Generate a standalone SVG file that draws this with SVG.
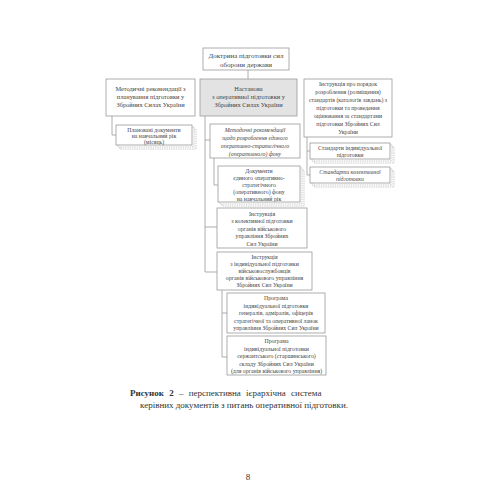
<svg xmlns="http://www.w3.org/2000/svg" width="500" height="500" viewBox="0 0 500 500">
<defs>
<style>
text{font-family:"Liberation Serif","Times New Roman",serif;fill:#444;text-anchor:middle}
.b{fill:#fff;stroke:#999;stroke-width:0.8}
.g{fill:#e3e3e3;stroke:#999;stroke-width:0.8}
.s{fill:#fff;stroke:#aaa;stroke-width:0.6;stroke-dasharray:1.5 0.8}
.c{fill:none;stroke:#999;stroke-width:0.8}
.t7{font-size:7px}
.t65{font-size:6.4px}
.t6{font-size:5.8px}
.i{font-style:italic}
.cap{font-size:9px;fill:#333}
</style>
</defs>
<rect width="500" height="500" fill="#fff"/>
<g id="connectors">
<path class="c" d="M248 70V79"/>
<path class="c" d="M112 116V135H116"/>
<path class="c" d="M205 116V272H217M205 140H210M205 227H217"/>
<path class="c" d="M214 158V185H218"/>
<path class="c" d="M307 137V175H310M307 151H310"/>
<path class="c" d="M222 290V357H227M222 313H227"/>
</g>
<g id="doctrine">
<rect class="b" x="203" y="48" width="86" height="22"/>
<text class="t7" x="246" y="58">Доктрина підготовки сил</text>
<text class="t7" x="246" y="66.5">оборони держави</text>
</g>
<g id="method-plan">
<rect class="b" x="106" y="79" width="89" height="37"/>
<text class="t65" x="150.5" y="90.5">Методичні рекомендації з</text>
<text class="t65" x="150.5" y="98.5">планування підготовки у</text>
<text class="t65" x="150.5" y="106.5">Збройних Силах України</text>
</g>
<g id="nastanova">
<rect class="g" x="200" y="79" width="97" height="37"/>
<text class="t65" x="248.5" y="90.5">Настанова</text>
<text class="t65" x="248.5" y="98.5">з оперативної підготовки у</text>
<text class="t65" x="248.5" y="106.5">Збройних Силах України</text>
</g>
<g id="instr-standards">
<rect class="b" x="304" y="79" width="88" height="58"/>
<text class="t6" x="348" y="86">Інструкція про порядок</text>
<text class="t6" x="348" y="94">розроблення (розміщення)</text>
<text class="t6" x="348" y="102">стандартів (каталогів завдань) з</text>
<text class="t6" x="348" y="110">підготовки та проведення</text>
<text class="t6" x="348" y="118">оцінювання за стандартами</text>
<text class="t6" x="348" y="126">підготовки Збройних Сил</text>
<text class="t6" x="348" y="134">України</text>
</g>
<g id="planned-docs">
<rect class="s" x="120" y="129" width="76" height="20"/>
<rect class="s" x="118" y="127" width="76" height="20"/>
<rect class="b" x="116" y="125" width="76" height="20"/>
<text class="t6" x="154" y="131.5">Плановані документи</text>
<text class="t6" x="154" y="137.5">на навчальний рік</text>
<text class="t6" x="154" y="143.5">(місяць)</text>
</g>
<g id="method-background">
<rect class="b" x="210" y="124" width="90" height="34"/>
<text class="t6 i" x="255" y="131.5">Методичні рекомендації</text>
<text class="t6 i" x="255" y="139.5">щодо розроблення єдиного</text>
<text class="t6 i" x="255" y="147.5">оперативно-стратегічного</text>
<text class="t6 i" x="255" y="155.5">(оперативного) фону</text>
</g>
<g id="std-individual">
<rect class="s" x="314" y="147" width="80" height="16"/>
<rect class="s" x="312" y="145" width="80" height="16"/>
<rect class="b" x="310" y="143" width="80" height="16"/>
<text class="t6" x="350" y="150">Стандарти індивідуальної</text>
<text class="t6" x="350" y="156.5">підготовки</text>
</g>
<g id="std-collective">
<rect class="s" x="314" y="171" width="80" height="16"/>
<rect class="s" x="312" y="169" width="80" height="16"/>
<rect class="b" x="310" y="167" width="80" height="16"/>
<text class="t6 i" x="350" y="174">Стандарти колективної</text>
<text class="t6 i" x="350" y="180.5">підготовки</text>
</g>
<g id="documents">
<rect class="s" x="222" y="170" width="82" height="36"/>
<rect class="s" x="220" y="168" width="82" height="36"/>
<rect class="b" x="218" y="166" width="82" height="36"/>
<text class="t6" x="259" y="173">Документи</text>
<text class="t6" x="259" y="180">єдиного оперативно-</text>
<text class="t6" x="259" y="187">стратегічного</text>
<text class="t6" x="259" y="194">(оперативного) фону</text>
<text class="t6" x="259" y="201">на навчальний рік</text>
</g>
<g id="instr-collective">
<rect class="b" x="217" y="208" width="90" height="40"/>
<text class="t6" x="262" y="215.5">Інструкція</text>
<text class="t6" x="262" y="223">з колективної підготовки</text>
<text class="t6" x="262" y="230.5">органів військового</text>
<text class="t6" x="262" y="238">управління Збройних</text>
<text class="t6" x="262" y="245.5">Сил України</text>
</g>
<g id="instr-individual">
<rect class="b" x="217" y="252" width="95" height="38"/>
<text class="t6" x="264.5" y="259">Інструкція</text>
<text class="t6" x="264.5" y="266">з індивідуальної підготовки</text>
<text class="t6" x="264.5" y="273">військовослужбовців</text>
<text class="t6" x="264.5" y="280">органів військового управління</text>
<text class="t6" x="264.5" y="287">Збройних Сил України</text>
</g>
<g id="program-officers">
<rect class="b" x="227" y="293" width="98" height="40"/>
<text class="t6" x="276" y="300">Програма</text>
<text class="t6" x="276" y="307.5">індивідуальної підготовки</text>
<text class="t6" x="276" y="315">генералів, адміралів, офіцерів</text>
<text class="t6" x="276" y="322.5">стратегічної та оперативної ланок</text>
<text class="t6" x="276" y="330">управління Збройних Сил України</text>
</g>
<g id="program-sergeants">
<rect class="b" x="227" y="336" width="99" height="39"/>
<text class="t6" x="276.5" y="343">Програма</text>
<text class="t6" x="276.5" y="350.5">індивідуальної підготовки</text>
<text class="t6" x="276.5" y="358">сержантського (старшинського)</text>
<text class="t6" x="276.5" y="365.5">складу Збройних Сил України</text>
<text class="t6" x="276.5" y="373">(для органів військового управління)</text>
</g>
<g id="caption">
<text class="cap" x="130" y="396" style="text-anchor:start;word-spacing:3px"><tspan font-weight="bold">Рисунок 2</tspan> – перспективна ієрархічна система</text>
<text class="cap" x="244" y="408">керівних документів з питань оперативної підготовки.</text>
<text class="cap" x="248" y="480">8</text>
</g>
</svg>
